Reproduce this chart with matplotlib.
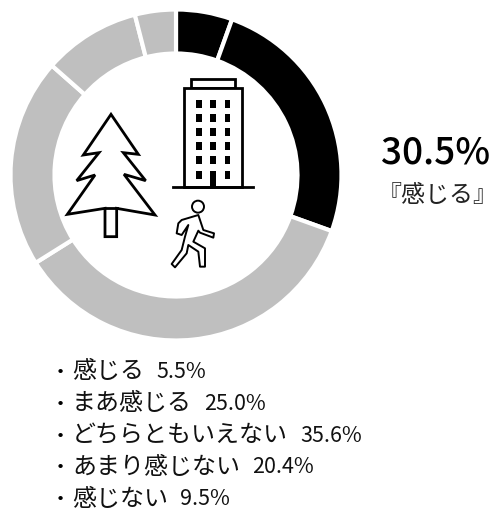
import matplotlib
matplotlib.use('Agg')
import matplotlib.pyplot as plt
from matplotlib.patches import Circle, Polygon, Rectangle

# wartosci z wykresu
wartosci = [5.5, 25.0, 35.6, 20.4, 9.5, 4.0]
kolory = ['#000000', '#000000', '#bfbfbf', '#bfbfbf', '#bfbfbf', '#bfbfbf']
etykiety = ['感じる', 'まあ感じる', 'どちらともいえない', 'あまり感じない', '感じない']
procenty = ['5.5%', '25.0%', '35.6%', '20.4%', '9.5%']
razem = '30.5%'
podpis = '『感じる』'

W, H = 502, 509
JP = ['Noto Sans CJK JP', 'DejaVu Sans']


def px(v):
    return v * 72 / 100


fig = plt.figure(figsize=(W / 100, H / 100), dpi=100)

# pierscien
cx, cy, R = 176, 175, 165.5
ax = fig.add_axes([(cx - R) / W, 1 - (cy + R) / H, 2 * R / W, 2 * R / H])
ax.pie(wartosci, colors=kolory, startangle=90, counterclock=False, radius=1,
       wedgeprops=dict(width=44 / R, edgecolor='white', linewidth=3))
ax.set_xlim(-1, 1)
ax.set_ylim(-1, 1)

# warstwa w pikselach na ikony i tekst
ov = fig.add_axes([0, 0, 1, 1])
ov.set_xlim(0, W)
ov.set_ylim(H, 0)
ov.axis('off')
ov.patch.set_alpha(0)


def z(punkty):
    # wspolrzedne z powiekszenia 3x -> piksele
    return [(50 + a / 3, 60 + b / 3) for a, b in punkty]


# drzewo
drzewo = [(183, 163), (265, 283), (220, 278), (287, 362), (222, 343), (315, 465),
          (200, 445), (200, 530), (165, 530), (165, 445), (52, 463), (135, 345),
          (80, 362), (147, 278), (100, 285)]
ov.add_patch(Polygon(z(drzewo), closed=True, fc='white', ec='black', lw=2, joinstyle='miter'))
ov.plot(*zip(*z([(165, 445), (200, 445)])), color='black', lw=2)

# budynek
ov.add_patch(Polygon(z([(423, 83), (423, 58), (555, 58), (555, 83)]), closed=True, fc='white', ec='black', lw=2))
ov.add_patch(Polygon(z([(403, 381), (403, 83), (576, 83), (576, 381)]), closed=True, fc='white', ec='black', lw=2))
ov.plot(*zip(*z([(368, 381), (608, 381)])), color='black', lw=2)
for kx in [446, 489, 532]:
    for ky in [131, 174, 216, 259, 301, 344]:
        if kx == 489 and ky == 344:
            continue
        ov.add_patch(Rectangle((50 + (kx - 8) / 3, 60 + (ky - 12) / 3), 17 / 3, 24 / 3, fc='black', ec='none'))
ov.add_patch(Rectangle((50 + 481 / 3, 60 + 332 / 3), 16 / 3, 48 / 3, fc='black', ec='none'))

# ludzik
ov.add_patch(Circle((50 + 444 / 3, 60 + 440 / 3), 18 / 3, fc='white', ec='black', lw=1.4))
ludzik = [(395, 480), (445, 465), (460, 510), (492, 520), (490, 533), (450, 518), (445, 512),
          (430, 545), (465, 565), (465, 620), (450, 620), (445, 575), (415, 555), (410, 580),
          (375, 622), (365, 612), (395, 570), (405, 530), (415, 495), (395, 525), (380, 520), (385, 490)]
ov.add_patch(Polygon(z(ludzik), closed=True, fc='white', ec='black', lw=1.4, joinstyle='round'))

# po prawej
ov.text(436, 163, razem, family=JP, fontsize=px(37), weight='medium', ha='center', va='baseline', color='black')
ov.text(437.5, 196, podpis, family=JP, fontsize=px(24), ha='center', va='center', color='#222222')

# lista
ys = [372, 404, 436, 467, 499]
for y, e, p in zip(ys, etykiety, procenty):
    ov.text(60, y, '・', family=JP, fontsize=px(17), weight='bold', ha='center', va='center', color='black')
    t = ov.text(72, y, e, family=JP, fontsize=px(24), ha='left', va='center', color='#111111')
    fig.canvas.draw()
    bb = t.get_window_extent()
    ov.text(bb.x1 + 12, y, p, family=JP, fontsize=px(21.5), ha='left', va='center', color='#111111')

fig.savefig('out.png', dpi=100)
